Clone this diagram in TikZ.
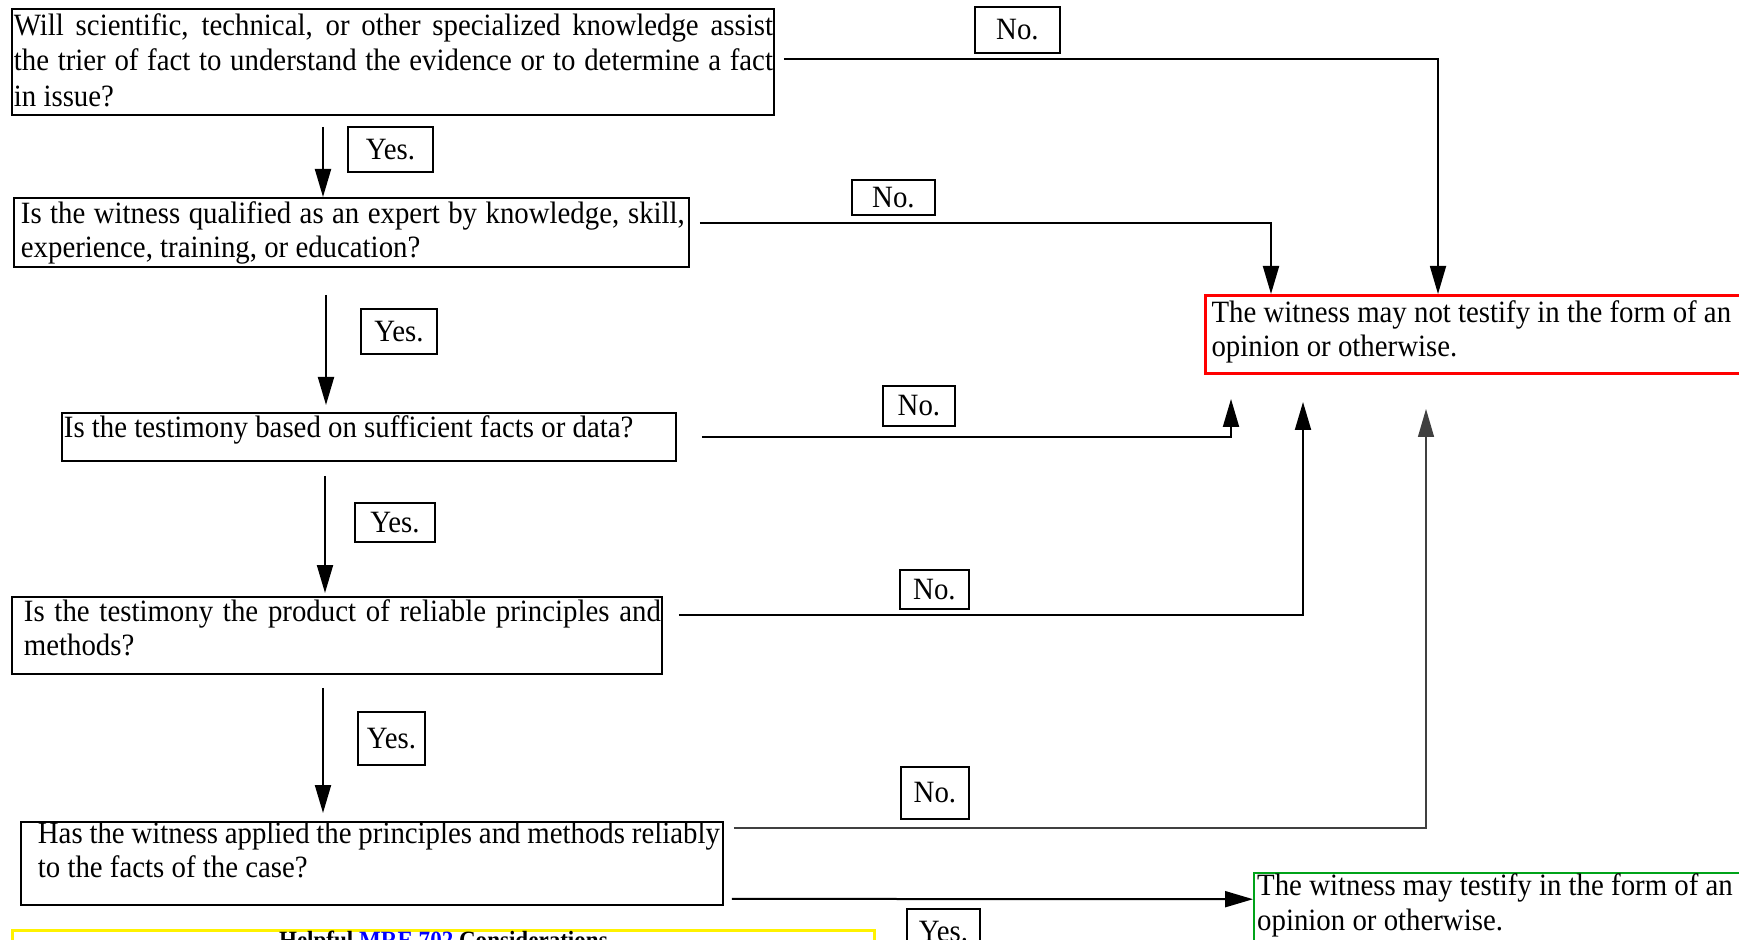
\documentclass[tikz,border=0pt]{standalone}
\usepackage{fontspec}
\setmainfont[FakeStretch=0.93]{Liberation Serif}
\usetikzlibrary{arrows.meta, positioning}

% top-aligned text block: [baseline drop]{left inset}{width}{height}{text}
\newcommand{\qbody}[5][11pt]{\hspace*{#2}\parbox[c][#4][t]{#3}{\rule{0pt}{#1}#5}}
% one justified line of given width
\newcommand{\jline}[2]{\makebox[#1][s]{#2}}

\begin{document}
\begin{tikzpicture}[
    x=0.5pt, y=-0.5pt,
    % Box styles
    qbox/.style={rectangle, draw=black, line width=0.9pt, inner sep=0pt, anchor=north west,
        font=\fontsize{15.5pt}{17.25pt}\selectfont},
    notbox/.style={qbox, draw=red, line width=1.5pt},
    okbox/.style={qbox, draw=green!60!black!90!cyan, line width=1.2pt},
    tipbox/.style={qbox, draw=yellow, line width=1.4pt, font=\fontsize{12.4pt}{15pt}\selectfont},
    tagbox/.style={rectangle, draw=black, line width=0.9pt, inner sep=0pt, anchor=north west,
        align=center, font=\fontsize{15.5pt}{17.25pt}\selectfont},
    flow/.style={-{Triangle[length=14pt, width=8pt]}, line width=1pt, draw=black},
    thinflow/.style={flow, line width=0.65pt, draw=black!75},
]
\useasboundingbox (0,0) rectangle (1739,940);

% ============ Questions ============
\node[qbox, font=\fontsize{15.5pt}{17.75pt}\selectfont] (q1) at (11,8) {\qbody[13.2pt]{1pt}{380pt}{53pt}{%
    \jline{379.5pt}{Will scientific, technical, or other specialized knowledge assist}\\
    \jline{379.5pt}{the trier of fact to understand the evidence or to determine a fact}\\
    in issue?}};

\node[qbox] (q2) at (13,197) {\qbody[12.6pt]{3.5pt}{334pt}{34.5pt}{%
    \jline{332pt}{Is the witness qualified as an expert by knowledge, skill,}\\
    experience, training, or education?}};

\node[qbox] (q3) at (61,412) {\qbody[12.1pt]{1pt}{306pt}{24pt}{%
    Is the testimony based on sufficient facts or data?}};

\node[qbox] (q4) at (11,596) {\qbody[12.1pt]{6pt}{319pt}{38.5pt}{%
    \jline{318.5pt}{Is the testimony the product of reliable principles and}\\
    methods?}};

\node[qbox] (q5) at (20,821) {\qbody[9.5pt]{8.5pt}{342.5pt}{41.5pt}{%
    \jline{341pt}{Has the witness applied the principles and methods reliably}\\
    to the facts of the case?}};

% ============ Outcomes ============
\node[notbox] (nope) at (1204,294) {\qbody[13.5pt]{3pt}{267.5pt}{39pt}{%
    The witness may not testify in the form of an\\
    opinion or otherwise.}};

\node[okbox, font=\fontsize{15.5pt}{17.75pt}\selectfont] (okay) at (1253,872) {\qbody[10.5pt]{1.5pt}{244.5pt}{40pt}{%
    The witness may testify in the form of an\\
    opinion or otherwise.}};

\node[tipbox] (tips) at (11,929) {\qbody[9pt]{0pt}{431pt}{40pt}{%
    \centering\bfseries Helpful \textcolor{blue}{MRE 702} Considerations}};

% ============ Tags ============
\node[tagbox, minimum width=42.5pt, minimum height=23pt] (no1) at (974,6) {No.};
\node[tagbox, minimum width=42.5pt, minimum height=22.5pt] (yes1) at (347,126) {Yes.};
\node[tagbox, minimum width=41.5pt, minimum height=17.5pt] (no2) at (851,179) {No.};
\node[tagbox, minimum width=38pt, minimum height=22.5pt] (yes2) at (360,308) {Yes.};
\node[tagbox, minimum width=36pt, minimum height=20pt] (no3) at (882,385) {No.};
\node[tagbox, minimum width=40pt, minimum height=19.5pt] (yes3) at (354,502) {Yes.};
\node[tagbox, minimum width=34.5pt, minimum height=19.5pt] (no4) at (899,569) {No.};
\node[tagbox, minimum width=33.5pt, minimum height=26.5pt] (yes4) at (357,711) {Yes.};
\node[tagbox, minimum width=34pt, minimum height=26pt] (no5) at (900,766) {No.};
\node[tagbox, minimum width=36.5pt, minimum height=22.5pt] (yes5) at (906,908) {Yes.};

% ============ Yes arrows ============
\draw[flow] ([xshift=156pt,yshift=-5.5pt]q1.south west) -- ([xshift=155pt]q2.north west);
\draw[flow] ([xshift=156.5pt,yshift=-13.5pt]q2.south west) -- ([xshift=132.5pt,yshift=3.5pt]q3.north west);
\draw[flow] ([xshift=132pt,yshift=-7pt]q3.south west) -- ([xshift=157pt,yshift=1.5pt]q4.north west);
\draw[flow] ([xshift=156pt,yshift=-6.5pt]q4.south west) -- ([xshift=151.5pt,yshift=4pt]q5.north west);
\draw[flow] ([xshift=4pt,yshift=-17.75pt]q5.east) -- ([yshift=7pt]okay.west);

% ============ No arrows ============
\draw[flow, line width=0.85pt] ([xshift=4.5pt,yshift=1.5pt]q1.east) -| ([xshift=117pt]nope.north west);
\draw[flow] ([xshift=5pt,yshift=4.75pt]q2.east) -| ([xshift=33.5pt]nope.north west);
\draw[flow] ([xshift=12.5pt]q3.east) -| ([xshift=13.5pt,yshift=-12pt]nope.south west);
\draw[flow] ([xshift=8pt,yshift=10.25pt]q4.east) -| ([xshift=49.5pt,yshift=-13.5pt]nope.south west);
\draw[thinflow] ([xshift=5pt,yshift=17.75pt]q5.east) -| ([xshift=111pt,yshift=-17pt]nope.south west);

\end{tikzpicture}
\end{document}
